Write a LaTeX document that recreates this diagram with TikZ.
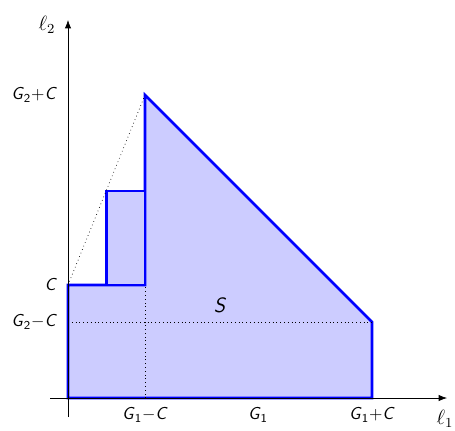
\documentclass[tikz,border=0pt]{standalone}
\usepackage{amsmath,amssymb}
\usepackage{tikz}
\usetikzlibrary{arrows.meta, positioning}
\definecolor{regionblue}{rgb}{0,0,1}
\newcommand{\sv}[1]{\textsf{\textit{#1}}}

\begin{document}
\begin{tikzpicture}[x=0.0204cm, y=0.0204cm, every node/.style={font=\sffamily}]
    \useasboundingbox (-68,-32) rectangle (387,398);

    % Region S
    \draw[line width=1.5pt, fill=regionblue!20, draw=regionblue] (0,0) -- (304,0) -- (304,76) -- (77,303) -- (77,113) -- (0,113) -- cycle;
    \draw[line width=1.5pt, fill=regionblue!20, draw=regionblue] (38.5,113) rectangle (77,207);
    \node[font=\sffamily\large] (sname) at (152,93) {\sv{S}};

    % Dotted guides
    \draw[dash pattern=on 0.4pt off 1.8pt] (77,0) -- (77,113);
    \draw[dash pattern=on 0.4pt off 1.8pt] (0,76) -- (304,76);
    \draw[dash pattern=on 0.4pt off 1.8pt] (0,113) -- (77,303);

    % Axes
    \draw[-{Latex}] (-18,0) -- (379,0);
    \draw[-{Latex}] (0,-19) -- (0,378);
    \node[font=\large] (lone) at (377,-21) {$\ell_1$};
    \node[font=\large] (ltwo) at (-21,373) {$\ell_2$};

    % Ticks on l1
    \node (gonemc) at (77,-17) {\sv{G}\textsubscript{1}$-$\sv{C}};
    \node (gone) at (190,-17) {\sv{G}\textsubscript{1}};
    \node (gonepc) at (304,-17) {\sv{G}\textsubscript{1}$+$\sv{C}};

    % Ticks on l2
    \node[left] (cval) at (-5,113) {\sv{C}};
    \node[left] (gtwomc) at (-5,76) {\sv{G}\textsubscript{2}$-$\sv{C}};
    \node[left] (gtwopc) at (-5,303) {\sv{G}\textsubscript{2}$+$\sv{C}};
\end{tikzpicture}
\end{document}
